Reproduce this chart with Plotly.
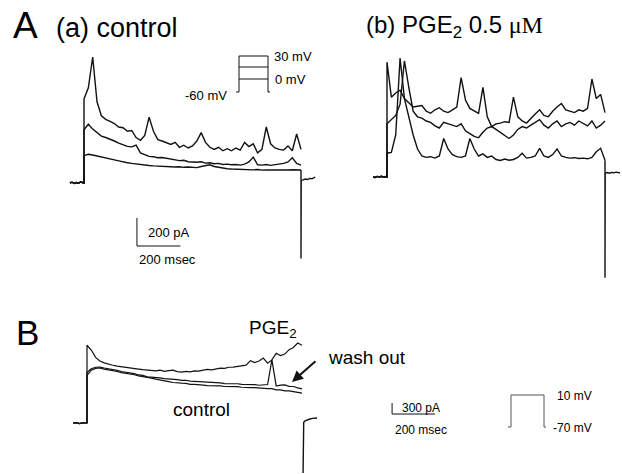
import plotly.graph_objects as go

# ---------------- data (ms, pA) ----------------
T_STEP = list(range(0, 1001, 20))   # sampling grid during the voltage step (ms)

# Panel A(a): control, three voltage steps
PRE_A_T = [-65, -55, -45, -35, -25, -15, -5, 0]
PRE_A_I = [0, 6, -4, 3, -2, 8, 2, 0]
A_CTRL_TOP = [600, 680, 900, 580, 480, 455, 440, 425, 400, 395,
              370, 375, 325, 305, 340, 470, 370, 310, 300, 290,
              275, 290, 255, 270, 250, 265, 300, 360, 290, 255,
              240, 255, 230, 245, 230, 250, 235, 290, 260, 280,
              215, 240, 400, 280, 250, 240, 235, 265, 230, 350,
              240]
A_CTRL_MID = [380, 420, 385, 360, 335, 325, 315, 300, 285, 275,
              262, 258, 270, 215, 200, 190, 188, 180, 182, 176,
              172, 168, 160, 162, 152, 150, 148, 152, 142, 145,
              138, 140, 132, 135, 130, 132, 128, 135, 150, 185,
              130, 128, 132, 126, 130, 135, 140, 150, 180, 140,
              128]
A_CTRL_LOW = [195, 205, 200, 192, 185, 180, 170, 165, 158, 150,
              145, 140, 135, 132, 128, 125, 122, 120, 118, 120,
              115, 114, 116, 112, 114, 112, 110, 118, 125, 130,
              118, 112, 105, 102, 100, 98, 100, 96, 95, 94,
              96, 92, 94, 93, 95, 92, 94, 93, 95, 92,
              93]
TAIL_A_T = [1000, 1001, 1009, 1020, 1030, 1040, 1050, 1060, 1065]
TAIL_A_I = [-540, 20, 22, 28, 25, 33, 30, 38, 42]

# Panel A(b): PGE2 0.5 uM
PRE_B_T = [-64, -55, -45, -35, -25, -15, -5, 0]
PRE_B_I = [0, -3, 4, 0, 5, -2, 3, 0]
A_PGE_TOP = [820, 570, 600, 620, 560, 530, 500, 505, 510, 470,
             455, 480, 495, 470, 460, 480, 500, 710, 550, 490,
             470, 455, 640, 430, 360, 380, 385, 395, 390, 570,
             430, 400, 385, 420, 450, 480, 440, 430, 470, 500,
             525, 480, 470, 460, 480, 470, 490, 700, 560, 590,
             460]
A_PGE_MID = [380, 410, 440, 520, 830, 640, 470, 430, 420, 400,
             390, 365, 350, 390, 380, 370, 360, 380, 330, 310,
             290, 280, 320, 350, 360, 340, 320, 300, 275, 300,
             340, 360, 350, 370, 390, 410, 370, 350, 380, 400,
             360, 380, 390, 370, 400, 385, 365, 400, 350, 370,
             400]
A_PGE_LOW = [170, 175, 300, 850, 560, 430, 300, 200, 150, 140,
             145, 135, 150, 275, 200, 160, 145, 140, 150, 275,
             200, 150, 165, 140, 150, 125, 118, 128, 120, 125,
             140, 170, 135, 140, 150, 205, 150, 140, 160, 200,
             150, 140, 135, 138, 132, 135, 130, 140, 180, 205,
             120]
TAIL_B_T = [1000, 1001, 1004, 1010, 1020, 1030, 1040, 1050, 1060, 1069]
TAIL_B_I = [-720, 30, 28, 32, 27, 33, 30, 35, 32, 30]

# Panel B: control / PGE2 / wash out (single step to 10 mV)
PRE_C_T = [-65, -50, -35, -20, -5, 0]
PRE_C_I = [0, 10, -15, 5, 0, 0]
B_PGE = [2120, 1990, 1790, 1690, 1640, 1600, 1575, 1550, 1530, 1510,
         1495, 1480, 1470, 1455, 1440, 1430, 1420, 1440, 1410, 1430,
         1440, 1400, 1390, 1410, 1395, 1420, 1415, 1440, 1460, 1450,
         1480, 1495, 1490, 1520, 1525, 1545, 1560, 1580, 1700, 1650,
         1690, 1770, 1630, 1720, 1900, 1840, 1880, 2000, 2060, 2180,
         2120]
B_WASH = [1380, 1480, 1520, 1525, 1500, 1485, 1450, 1435, 1405, 1390,
          1360, 1345, 1310, 1300, 1260, 1255, 1235, 1230, 1210, 1205,
          1190, 1185, 1165, 1165, 1140, 1135, 1115, 1120, 1100, 1105,
          1090, 1095, 1075, 1080, 1065, 1070, 1055, 1055, 1040, 1045,
          1030, 1045, 1050, 1720, 1010, 1035, 1040, 1000, 995, 960,
          930]
B_CTRL = [1300, 1440, 1490, 1500, 1470, 1455, 1420, 1405, 1375, 1360,
          1330, 1315, 1285, 1270, 1235, 1225, 1195, 1180, 1145, 1130,
          1105, 1105, 1085, 1080, 1055, 1055, 1035, 1035, 1020, 1020,
          1005, 1010, 995, 1000, 985, 990, 975, 980, 965, 965,
          950, 950, 935, 935, 905, 905, 875, 875, 845, 835,
          815]
TAIL_C_T = [1005, 1005, 1008, 1014, 1025, 1037, 1050, 1070]
TAIL_C_I = [-1364, -60, 20, 60, 90, 110, 125, 136]

# ---------------- layout helpers ----------------
W, H = 622, 474
SANS = "Liberation Sans, Arial, Helvetica, sans-serif"
INK = "#111111"

# panel geometry: (t=0 px, ms per px, I=0 px, pA per px, left, right, top, bottom)
PANELS = {
    "1": (84, 1000 / 217, 183, 200 / 28, 55, 340, 30, 290),
    "2": (387, 1000 / 218, 177, 200 / 28, 360, 622, 30, 290),
    "3": (87, 1000 / 215, 423, 300 / 11, 55, 470, 300, 474),
}

fig = go.Figure()
layout_axes = {}
for k, (x0, mspp, y0, papp, l, r, t, b) in PANELS.items():
    xa = "xaxis" if k == "1" else f"xaxis{k}"
    ya = "yaxis" if k == "1" else f"yaxis{k}"
    layout_axes[xa] = dict(domain=[l / W, r / W], range=[(l - x0) * mspp, (r - x0) * mspp],
                           visible=False, fixedrange=True, anchor="y" if k == "1" else f"y{k}")
    layout_axes[ya] = dict(domain=[1 - b / H, 1 - t / H], range=[(y0 - b) * papp, (y0 - t) * papp],
                           visible=False, fixedrange=True, anchor="x" if k == "1" else f"x{k}")


def add_line(xs, ys, k, width=1.4):
    fig.add_trace(go.Scatter(x=xs, y=ys, mode="lines", line=dict(color=INK, width=width),
                             xaxis="x" if k == "1" else f"x{k}", yaxis="y" if k == "1" else f"y{k}",
                             showlegend=False, hoverinfo="skip"))


for series in (A_CTRL_TOP, A_CTRL_MID, A_CTRL_LOW):
    add_line(PRE_A_T + T_STEP, PRE_A_I + series, "1")
add_line([1000] + TAIL_A_T, [A_CTRL_LOW[-1]] + TAIL_A_I, "1")

for series in (A_PGE_TOP, A_PGE_MID, A_PGE_LOW):
    add_line(PRE_B_T + T_STEP, PRE_B_I + series, "2")
add_line([1000] + TAIL_B_T, [A_PGE_LOW[-1]] + TAIL_B_I, "2")

for series in (B_PGE, B_WASH, B_CTRL):
    add_line(PRE_C_T + T_STEP, PRE_C_I + series, "3", width=1.2)
add_line(TAIL_C_T, TAIL_C_I, "3", width=1.4)

shapes = []
# scale bars in data units
def scalebar(k, t0, i0, dt, di):
    xr = "x" if k == "1" else f"x{k}"
    yr = "y" if k == "1" else f"y{k}"
    shapes.append(dict(type="line", xref=xr, yref=yr, x0=t0, x1=t0, y0=i0, y1=i0 + di,
                       line=dict(color=INK, width=1)))
    shapes.append(dict(type="line", xref=xr, yref=yr, x0=t0, x1=t0 + dt, y0=i0, y1=i0,
                       line=dict(color=INK, width=1)))

scalebar("1", 244, -450, 200, 200)
scalebar("3", 1419, 245, 200, 300)

# voltage protocol schematics (pixel layout)
def seg(x0, y0, x1, y1, color=INK, w=1):
    shapes.append(dict(type="line", xref="paper", yref="paper", x0=x0 / W, x1=x1 / W,
                       y0=1 - y0 / H, y1=1 - y1 / H, line=dict(color=color, width=w)))

seg(236, 92, 239, 92); seg(239, 92, 239, 56); seg(268, 56, 268, 92); seg(268, 92, 270, 92)
for yy in (56, 67, 79):
    seg(239, yy, 268, yy)
GRAY = "#555555"
seg(508, 427, 511, 427, GRAY); seg(511, 427, 511, 395, GRAY); seg(511, 395, 544, 395, GRAY)
seg(544, 395, 544, 427, GRAY); seg(544, 427, 546, 427, GRAY)

fig.update_layout(shapes=shapes, width=W, height=H, margin=dict(l=0, r=0, t=0, b=0),
                  paper_bgcolor="white", plot_bgcolor="white", showlegend=False, **layout_axes)


def txt(s, xpx, ypx, size, family=SANS, xanchor="left"):
    fig.add_annotation(text=s, x=xpx / W, y=1 - ypx / H, xref="paper", yref="paper",
                       xanchor=xanchor, yanchor="middle", showarrow=False,
                       font=dict(size=size, family=family, color="black"))


txt("A", 11, 25, 37)
txt("(a) control", 54, 28, 27)
txt("(b) PGE<sub>2</sub> 0.5 <span style='font-family:Liberation Serif'>μM</span>", 364, 27, 24)
txt("30 mV", 272, 57, 13)
txt("0 mV", 273, 80, 13)
txt("-60 mV", 183, 96, 13)
txt("200 pA", 146, 232, 13)
txt("200 msec", 137, 259, 13)
txt("B", 14, 332, 35)
txt("PGE<sub>2</sub>", 247, 329, 19)
txt("wash out", 326, 357, 19)
txt("control", 171, 409, 19)
txt("300 pA", 400, 408, 12)
txt("200 msec", 393, 430, 12)
txt("10 mV", 555, 396, 12)
txt("-70 mV", 551, 428, 12)

fig.add_annotation(x=292 / W, y=1 - 382 / H, xref="paper", yref="paper", ax=25, ay=-22,
                   showarrow=True, arrowhead=2, arrowsize=1.1, arrowwidth=2, arrowcolor=INK, text="")

fig.write_html("out.html", config={"displayModeBar": False},
               post_script="document.body.style.margin='0';document.body.style.overflow='hidden';")
